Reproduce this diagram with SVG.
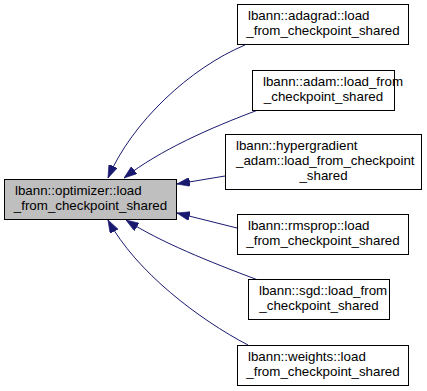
<svg xmlns="http://www.w3.org/2000/svg" width="427" height="391" viewBox="0 0 427 391">
  <style>
    .box { fill: #ffffff; stroke: #000000; stroke-width: 1; }
    .box.main { fill: #bfbfbf; }
    text { font-family: "Liberation Sans", Arial, Helvetica, sans-serif; font-size: 13.33px; fill: #000000; }
    .c { text-anchor: middle; }
    .edge { fill: none; stroke: #191970; stroke-width: 1; marker-end: url(#arrow); }
  </style>
  <defs>
    <marker id="arrow" viewBox="0 0 10 7" refX="10" refY="3.5" markerUnits="userSpaceOnUse" markerWidth="13" markerHeight="9" orient="auto">
      <path d="M0,0 L10,3.5 L0,7 z" fill="#191970" stroke="#191970" stroke-width="0.5"/>
    </marker>
  </defs>
  <rect width="427" height="391" fill="#ffffff"/>

  <g id="edges">
    <path class="edge" d="M245,45 C190,68 132,122 108,178"/>
    <path class="edge" d="M258,110 C210,128 160,150 124,178"/>
    <path class="edge" d="M225,176 L177,184"/>
    <path class="edge" d="M237,228 L177,213"/>
    <path class="edge" d="M258,280 C210,262 160,242 126,220"/>
    <path class="edge" d="M248,345 C200,320 136,272 108,220"/>
  </g>

  <g id="node-optimizer">
    <rect class="box main" x="4.5" y="179.5" width="172" height="40"/>
    <text x="15" y="195">lbann::optimizer::load</text>
    <text class="c" x="90.5" y="210">_from_checkpoint_shared</text>
  </g>

  <g id="node-adagrad">
    <rect class="box" x="237.5" y="4.5" width="171" height="40"/>
    <text x="248" y="20">lbann::adagrad::load</text>
    <text class="c" x="323" y="35">_from_checkpoint_shared</text>
  </g>

  <g id="node-adam">
    <rect class="box" x="252.5" y="70.5" width="142" height="40"/>
    <text x="263" y="86">lbann::adam::load_from</text>
    <text class="c" x="323.5" y="101">_checkpoint_shared</text>
  </g>

  <g id="node-hypergradient-adam">
    <rect class="box" x="225.5" y="134.5" width="196" height="55"/>
    <text x="236" y="150">lbann::hypergradient</text>
    <text x="236" y="165">_adam::load_from_checkpoint</text>
    <text class="c" x="323.5" y="180">_shared</text>
  </g>

  <g id="node-rmsprop">
    <rect class="box" x="237.5" y="214.5" width="171" height="40"/>
    <text x="248" y="230">lbann::rmsprop::load</text>
    <text class="c" x="323" y="245">_from_checkpoint_shared</text>
  </g>

  <g id="node-sgd">
    <rect class="box" x="248.5" y="279.5" width="141" height="40"/>
    <text x="259" y="295">lbann::sgd::load_from</text>
    <text class="c" x="319" y="310">_checkpoint_shared</text>
  </g>

  <g id="node-weights">
    <rect class="box" x="237.5" y="345.5" width="171" height="40"/>
    <text x="248" y="361">lbann::weights::load</text>
    <text class="c" x="323" y="376">_from_checkpoint_shared</text>
  </g>
</svg>
